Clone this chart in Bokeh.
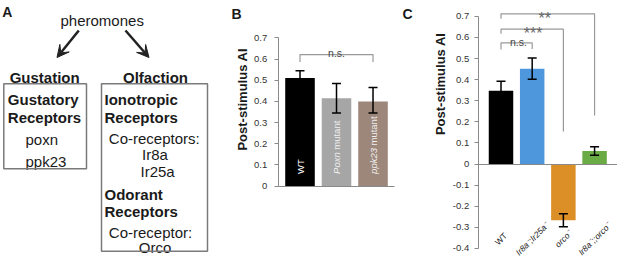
import math
from bokeh.plotting import figure
from bokeh.layouts import row
from bokeh.models import (Range1d, FixedTicker, CustomJSTickFormatter, Whisker,
                          TeeHead, ColumnDataSource, Arrow, VeeHead)
from bokeh.core.properties import value
from bokeh.embed import file_html
from bokeh.resources import INLINE

FONT = "Liberation Sans"
TXT = "#1a1a1a"
AXIS = "#8a8a8a"

# ---------------- data ----------------
# Panel A (diagram text)
a_root = "pheromones"
a_branches = ["Gustation", "Olfaction"]
a_bold_lines = ["Gustatory", "Receptors", "Ionotropic", "Receptors", "Odorant", "Receptors"]
a_plain_lines = ["poxn", "ppk23", "Co-receptors:", "Ir8a", "Ir25a", "Co-receptor:", "Orco"]

# Panel B
b_label_first = ["WT", "Poxn", "ppk23"]
b_label_first_style = ["normal", "italic", "italic"]
b_label_second = ["mutant", "mutant"]
b_values = [0.51, 0.415, 0.40]
b_upper = [0.545, 0.485, 0.465]
b_lower = [0.475, 0.345, 0.345]
b_colors = ["#000000", "#a6a6a6", "#9d867a"]
b_ticks = [0, 0.1, 0.2, 0.3, 0.4, 0.5, 0.6, 0.7]

# Panel C
c_groups = ["WT", "Ir8a\u207b;Ir25a\u207b", "orco\u207b", "Ir8a\u207b;;orco\u207b"]
c_group_style = ["normal", "italic", "italic", "italic"]
c_values = [0.347, 0.452, -0.267, 0.062]
c_upper = [0.392, 0.502, -0.236, 0.082]
c_lower = [0.302, 0.402, -0.297, 0.042]
c_colors = ["#000000", "#4f97dd", "#dc8f27", "#6aab45"]
c_ticks = [-0.4, -0.3, -0.2, -0.1, 0, 0.1, 0.2, 0.3, 0.4, 0.5, 0.6, 0.7]
c_sig = ["n.s.", "***", "**"]
y_title = "Post-stimulus AI"

fmt = CustomJSTickFormatter(code="return Math.abs(tick) < 1e-9 ? '0' : tick.toFixed(1);")


def clean(p):
    p.grid.visible = False
    p.outline_line_color = None
    p.background_fill_color = "white"
    p.border_fill_color = "white"


def style_yaxis(ax, ticks, bounds, loc, standoff):
    ax.fixed_location = loc
    ax.ticker = FixedTicker(ticks=ticks)
    ax.bounds = bounds
    ax.formatter = fmt
    ax.major_tick_out = 4
    ax.major_tick_in = 0
    ax.minor_tick_line_color = None
    ax.axis_line_color = AXIS
    ax.major_tick_line_color = AXIS
    ax.major_label_text_font = FONT
    ax.major_label_text_font_size = "9.5px"
    ax.major_label_text_color = "#333333"
    ax.major_label_standoff = standoff


def style_baseline(ax, bounds):
    ax.fixed_location = 0
    ax.ticker = FixedTicker(ticks=[])
    ax.bounds = bounds
    ax.minor_tick_line_color = None
    ax.major_tick_line_color = None
    ax.axis_line_color = AXIS


# ---------------- Panel A ----------------
pa = figure(width=225, height=259, x_range=Range1d(0, 225), y_range=Range1d(259, 0),
            min_border=0, toolbar_location=None, output_backend="svg", frame_align=False)
clean(pa)
pa.axis.visible = False

pa.text(x=[1.7], y=[3.5], text=["A"], text_font=value(FONT), text_font_size="14px",
        text_font_style="bold", text_align="left", text_baseline="top", text_color=TXT)
pa.text(x=[101.7], y=[20], text=[a_root], text_font=value(FONT), text_font_size="15px",
        text_align="center", text_baseline="alphabetic", text_color=TXT)
pa.text(x=[44.2, 155], y=[77.3, 77.3], text=a_branches, text_font=value(FONT),
        text_font_size="15px", text_font_style="bold", text_align="center",
        text_baseline="alphabetic", text_color=TXT)
pa.text(x=[7.3, 7.3, 104, 104, 104, 104], y=[99, 116.5, 99, 116.5, 193.5, 210.5],
        text=a_bold_lines, text_font=value(FONT), text_font_size="15px",
        text_font_style="bold", text_align="left", text_baseline="alphabetic", text_color=TXT)
pa.text(x=[25, 25, 108.3, 141.5, 140, 108.3, 138.3],
        y=[138.5, 160.5, 138, 153.5, 170.5, 232, 246.5],
        text=a_plain_lines, text_font=value(FONT), text_font_size="15px",
        text_align="left", text_baseline="alphabetic", text_color=TXT)
pa.quad(left=[3.3, 101], right=[86, 207], top=[83.3, 83.3], bottom=[168.3, 250.7],
        fill_color=None, line_color="#7a7a7a", line_width=1.5)
for xs, ys, xe, ye in [(78.3, 30, 56.5, 57), (125, 30, 148.5, 57)]:
    pa.add_layout(Arrow(x_start=xs, y_start=ys, x_end=xe, y_end=ye, line_width=2.5,
                        line_color="#222222",
                        end=VeeHead(size=12, fill_color="#222222", line_color="#222222",
                                    line_width=1)))

# ---------------- Panel B ----------------
pb = figure(width=175, height=259, x_range=Range1d(-2.041, 2.753), y_range=Range1d(-0.3458, 0.876),
            min_border=0, toolbar_location=None, output_backend="svg", frame_align=False)
clean(pb)
bx = list(range(len(b_values)))
pb.vbar(x=bx, top=b_values, width=0.81, color=b_colors, line_color=None)
bsrc = ColumnDataSource(dict(x=bx, upper=b_upper, lower=b_lower))
wb = Whisker(source=bsrc, base="x", upper="upper", lower="lower", dimension="height",
             line_color="black", line_width=1.5, level="overlay",
             upper_head=TeeHead(size=9, line_color="black", line_width=1.5),
             lower_head=TeeHead(size=9, line_color="black", line_width=1.5))
pb.add_layout(wb)
# in-bar labels
pb.text(x=bx, y=[0.058] * 3, text=b_label_first, angle=math.pi / 2,
        text_font=value(FONT), text_font_size="9.5px",
        text_font_style=b_label_first_style,
        text_align="left", text_baseline="middle",
        text_color=["#ffffff", "#f0f0f0", "#f0f0f0"])
pb.text(x=[1, 2], y=[0.172, 0.192], text=b_label_second, angle=math.pi / 2,
        text_font=value(FONT), text_font_size="9.5px",
        text_align="left", text_baseline="middle", text_color="#f0f0f0")
# bracket
pb.line(x=[0, 0, 2, 2], y=[0.586, 0.621, 0.621, 0.586], line_color="#999999", line_width=1.2)
pb.text(x=[1.0], y=[0.628], text=[c_sig[0]], text_font=value(FONT), text_font_size="10.5px",
        text_align="center", text_baseline="alphabetic", text_color="#444444")
# axes (drawn inside the frame at fixed positions)
style_yaxis(pb.yaxis[0], b_ticks, (0, 0.7), -0.597, 7)
style_baseline(pb.xaxis[0], (-0.597, 2.589))
pb.text(x=[-1.575], y=[0.41], text=[y_title], angle=math.pi / 2, text_font=value(FONT),
        text_font_size="13px", text_font_style="bold", text_align="center",
        text_baseline="middle", text_color=TXT)
pb.text(x=[-1.877], y=[0.852], text=["B"], text_font=value(FONT), text_font_size="14px",
        text_font_style="bold", text_align="left", text_baseline="top", text_color=TXT)

# ---------------- Panel C ----------------
pc = figure(width=217, height=259, x_range=Range1d(-3.222, 3.735), y_range=Range1d(-0.4526, 0.775),
            min_border=0, toolbar_location=None, output_backend="svg", frame_align=False)
clean(pc)
cx = list(range(len(c_values)))
pc.vbar(x=cx, top=c_values, bottom=0, width=0.785, color=c_colors, line_color=None)
csrc = ColumnDataSource(dict(x=cx, upper=c_upper, lower=c_lower))
wc = Whisker(source=csrc, base="x", upper="upper", lower="lower", dimension="height",
             line_color="black", line_width=1.5, level="overlay",
             upper_head=TeeHead(size=9, line_color="black", line_width=1.5),
             lower_head=TeeHead(size=9, line_color="black", line_width=1.5))
pc.add_layout(wc)
# significance brackets
pc.line(x=[0, 0, 1, 1], y=[0.543, 0.574, 0.574, 0.545], line_color="#999999", line_width=1.2)
pc.line(x=[0, 0, 2, 2], y=[0.617, 0.639, 0.639, 0.154], line_color="#999999", line_width=1.2)
pc.line(x=[0, 0, 3, 3], y=[0.688, 0.712, 0.712, 0.230], line_color="#999999", line_width=1.2)
pc.text(x=[0.56], y=[0.579], text=[c_sig[0]], text_font=value(FONT), text_font_size="10.5px",
        text_align="center", text_baseline="alphabetic", text_color="#444444")
pc.text(x=[1.03, 1.40], y=[0.618, 0.692], text=c_sig[1:], text_font=value(FONT),
        text_font_size="16px", text_align="center", text_baseline="alphabetic",
        text_color="#666666")
# category labels (rotated)
pc.text(x=cx, y=[-0.355] * 4, text=c_groups, angle=math.pi / 4,
        text_font=value(FONT), text_font_size="8.5px", text_font_style=c_group_style,
        text_align="center", text_baseline="middle", text_color="#222222")
style_yaxis(pc.yaxis[0], c_ticks, (-0.4, 0.7), -0.731, 5)
style_baseline(pc.xaxis[0], (-0.731, 3.735))
pc.text(x=[-1.94], y=[0.38], text=[y_title], angle=math.pi / 2, text_font=value(FONT),
        text_font_size="13px", text_font_style="bold", text_align="center",
        text_baseline="middle", text_color=TXT)
pc.text(x=[-3.158], y=[0.751], text=["C"], text_font=value(FONT), text_font_size="14px",
        text_font_style="bold", text_align="left", text_baseline="top", text_color=TXT)

layout = row(pa, pb, pc)
open("out.html", "w").write(file_html(layout, INLINE))
